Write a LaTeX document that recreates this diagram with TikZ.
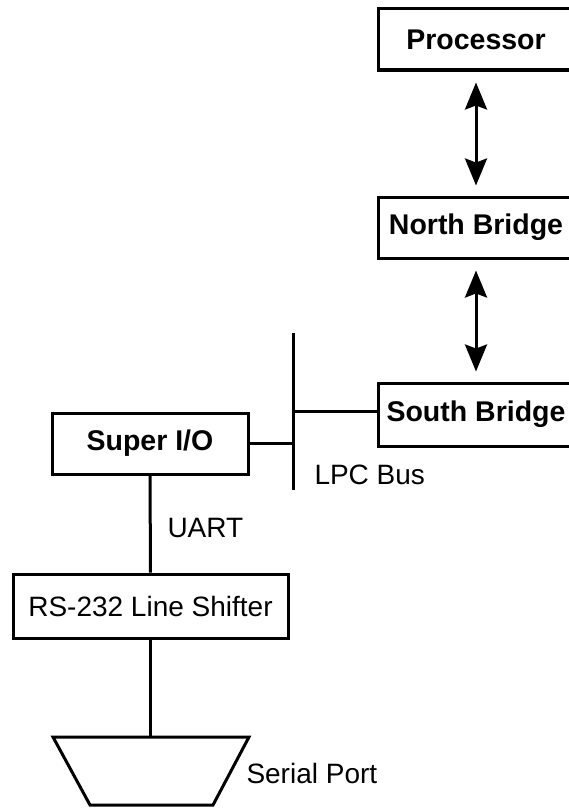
\documentclass[tikz,border=0pt]{standalone}
\usepackage{fontspec}
\setmainfont{Liberation Sans}
\usetikzlibrary{arrows.meta}
\begin{document}
\begin{tikzpicture}[x=1pt,y=-1pt,line width=3pt,
  txt/.style={font=\fontsize{28}{31}\selectfont, inner sep=0pt},
  box/.style={draw, rectangle, inner sep=0pt, minimum width=196pt, minimum height=61pt, font=\bfseries\fontsize{28.5}{31}\selectfont},
  biarrow/.style={{Stealth[length=27pt,width=22pt,inset=4pt]}-{Stealth[length=27pt,width=22pt,inset=4pt]}, shorten <=11pt, shorten >=10pt}]
\useasboundingbox (0,0) rectangle (568,808);
\node[box] (proc) at (476,39.5) {Processor};
\node[box] (nb) at (476,227.5) {North Bridge};
\node[box, minimum height=63pt] (sb) at (476,414.5) {South Bridge};
\node[box, minimum width=196pt] (sio) at (150,443.5) {Super I/O};
\node[box, font=\fontsize{28}{31}\selectfont, minimum width=275pt, minimum height=64pt] (rs) at (150.5,606) {RS-232 Line Shifter};
\draw[biarrow] (proc.south) -- (nb.north);
\draw[biarrow] (nb.south) -- (sb.north);
\coordinate (bt) at (293,333);
\coordinate (bb) at (293,490);
\draw (bt) -- (bb);
\draw ([yshift=3pt]sb.west) -- ([yshift=3pt]sb.west -| bt);
\draw (sio.east) -- (sio.east -| bt);
\node[txt, anchor=west] (lpc) at (313,475) {LPC Bus};
\draw (sio.south) -- (rs.north);
\node[txt, anchor=west] (uart) at (166,528) {UART};
\coordinate (sp) at (rs.south |- 0,737);
\draw (53,737) -- (249,737) -- (213,805) -- (90,805) -- cycle;
\draw (rs.south) -- (sp);
\node[txt, anchor=west] (spl) at (245,773) {Serial Port};
\end{tikzpicture}
\end{document}
